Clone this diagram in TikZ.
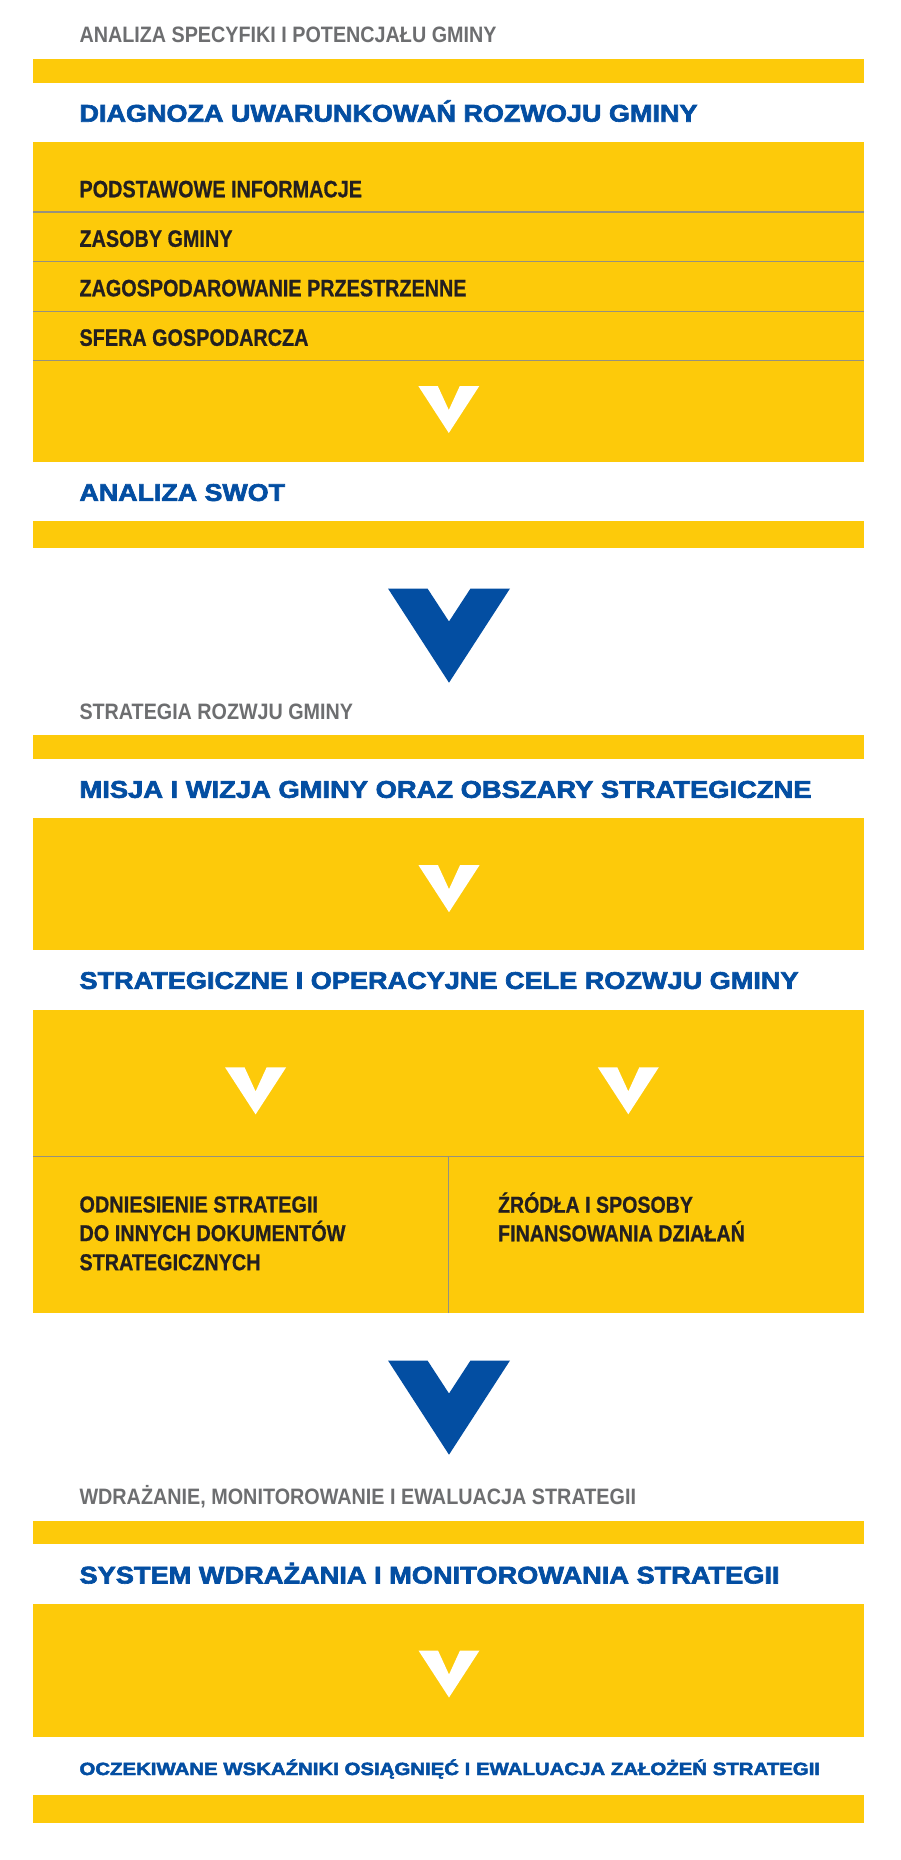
\documentclass[tikz,border=0pt]{standalone}
\usepackage{fontspec}
\setmainfont{Liberation Sans}
\newfontfamily\blkfont[FakeBold=2.5]{Liberation Sans Bold}
\newfontfamily\drkfont[FakeBold=0.8]{Liberation Sans Bold}
\usepackage{graphicx}
\definecolor{yel}{RGB}{253,202,10}
\definecolor{blu}{RGB}{3,78,162}
\definecolor{gry}{RGB}{109,110,112}
\definecolor{drk}{RGB}{35,31,32}
\definecolor{sepc}{RGB}{150,145,125}
\newcommand{\fitw}[3]{{\fontsize{#1}{#1}\selectfont\bfseries\resizebox{#2pt}{\height}{#3}}}
\newcommand{\fitb}[3]{{\blkfont\fontsize{#1}{#1}\selectfont\resizebox{#2pt}{\height}{#3}}}
\newcommand{\fitd}[3]{{\drkfont\fontsize{#1}{#1}\selectfont\resizebox{#2pt}{\height}{#3}}}
\newcommand{\whiteV}[2]{\fill[white] (#1-30.5,#2) -- (#1-11,#2) -- (#1,#2+24) -- (#1+11,#2) -- (#1+30.5,#2) -- (#1,#2+47) -- cycle;}
\newcommand{\blueV}[2]{\fill[blu] (#1-61,#2) -- (#1-21.5,#2) -- (#1,#2+33) -- (#1+21.5,#2) -- (#1+61,#2) -- (#1,#2+94.2) -- cycle;}
\begin{document}
\begin{tikzpicture}[x=1pt,y=-1pt,
  lbl/.style={anchor=base west, inner sep=0pt, outer sep=0pt},
  graytxt/.style={lbl,text=gry},
  bluetxt/.style={lbl,text=blu},
  darktxt/.style={lbl,text=drk},
  sepline/.style={draw=sepc,line width=1.2pt}]
\useasboundingbox[fill=white] (0,0) rectangle (901,1860);
% yellow areas
\fill[yel] (33,58.7) rectangle (864.3,83);
\fill[yel] (33,142) rectangle (864.3,462.3);
\fill[yel] (33,521) rectangle (864.3,548.4);
\fill[yel] (33,735) rectangle (864.3,759);
\fill[yel] (33,818.2) rectangle (864.3,950.2);
\fill[yel] (33,1009.5) rectangle (864.3,1312.8);
\fill[yel] (33,1520.5) rectangle (864.3,1544);
\fill[yel] (33,1604) rectangle (864.3,1736.5);
\fill[yel] (33,1795) rectangle (864.3,1823);
% separators
\foreach \yy in {212,261.7,311.3,360.7} \draw[sepline] (33,\yy) -- (864.3,\yy);
\draw[sepline] (33,1156.6) -- (864.3,1156.6);
\draw[sepline] (448.5,1156.6) -- (448.5,1312.8);
% arrows
\whiteV{448.8}{386}
\blueV{449}{588.5}
\whiteV{449}{865.2}
\whiteV{255.6}{1067.4}
\whiteV{628.3}{1067.3}
\blueV{449}{1360.5}
\whiteV{449}{1650.5}
% texts
\node[graytxt] (h1) at (79.5,42.7) {\fitw{22.3}{417}{ANALIZA SPECYFIKI I POTENCJAŁU GMINY}};
\node[bluetxt] (d1) at (79.5,121.7) {\fitb{24.2}{618}{DIAGNOZA UWARUNKOWAŃ ROZWOJU GMINY}};
\node[darktxt] (a1) at (79.5,197.3) {\fitd{23.7}{282.5}{PODSTAWOWE INFORMACJE}};
\node[darktxt] (a2) at (79.5,246.8) {\fitd{23.7}{153}{ZASOBY GMINY}};
\node[darktxt] (a3) at (79.5,296.3) {\fitd{23.7}{387}{ZAGOSPODAROWANIE PRZESTRZENNE}};
\node[darktxt] (a4) at (79.5,345.8) {\fitd{23.7}{229}{SFERA GOSPODARCZA}};
\node[bluetxt] (swot) at (79.5,500.9) {\fitb{24.2}{205.5}{ANALIZA SWOT}};
\node[graytxt] (h2) at (79.5,719) {\fitw{22.3}{273.5}{STRATEGIA ROZWJU GMINY}};
\node[bluetxt] (misja) at (79.5,797.8) {\fitb{24.2}{732}{MISJA I WIZJA GMINY ORAZ OBSZARY STRATEGICZNE}};
\node[bluetxt] (cele) at (79.5,988.9) {\fitb{24.2}{719}{STRATEGICZNE I OPERACYJNE CELE ROZWJU GMINY}};
\node[darktxt] (o1) at (79.5,1212.4) {\fitd{23}{238.5}{ODNIESIENIE STRATEGII}};
\node[darktxt] (o2) at (79.5,1241.1) {\fitd{23}{266}{DO INNYCH DOKUMENTÓW}};
\node[darktxt] (o3) at (79.5,1270.2) {\fitd{23}{181}{STRATEGICZNYCH}};
\node[darktxt] (z1) at (498,1212.7) {\fitd{23}{195}{ŹRÓDŁA I SPOSOBY}};
\node[darktxt] (z2) at (498,1241.3) {\fitd{23}{247}{FINANSOWANIA DZIAŁAŃ}};
\node[graytxt] (h3) at (79.5,1504.4) {\fitw{22.3}{556.5}{WDRAŻANIE, MONITOROWANIE I EWALUACJA STRATEGII}};
\node[bluetxt] (sys) at (79.5,1583.5) {\fitb{24.2}{700}{SYSTEM WDRAŻANIA I MONITOROWANIA STRATEGII}};
\node[bluetxt] (ocz) at (79.5,1775) {\fitb{17.7}{740.5}{OCZEKIWANE WSKAŹNIKI OSIĄGNIĘĆ I EWALUACJA ZAŁOŻEŃ STRATEGII}};
\end{tikzpicture}
\end{document}
